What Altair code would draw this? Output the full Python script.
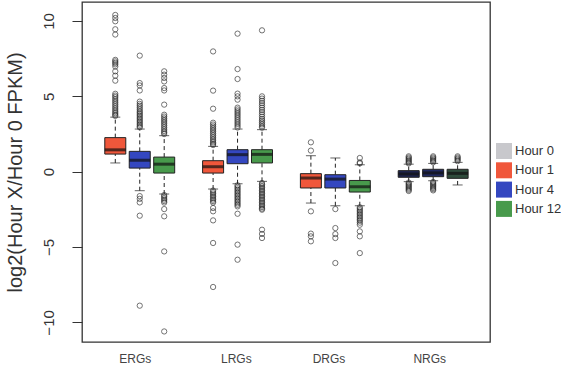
import altair as alt
import pandas as pd

# Legend entries (Hour 0 is the reference and has no box of its own)
hours = ["Hour 0", "Hour 1", "Hour 4", "Hour 12"]
hour_colors = ["#c8c8cc", "#f0573b", "#3447c0", "#489a4c"]

# Gene classes and where their names sit on the x axis (box slot units)
groups = ["ERGs", "LRGs", "DRGs", "NRGs"]
group_label_pos = [1.8, 5.93, 9.72, 13.84]

# One box per class and time point; slot positions along x
box_group = ["ERGs"] * 3 + ["LRGs"] * 3 + ["DRGs"] * 3 + ["NRGs"] * 3
box_hour = ["Hour 1", "Hour 4", "Hour 12"] * 4
box_pos = [1, 2, 3, 5, 6, 7, 9, 10, 11, 13, 14, 15]

# Five-number summaries (log2 fold change vs Hour 0)
whisker_low = [0.58, -1.26, -1.48, -1.15, -0.80, -0.64, -2.08, -2.26, -2.26, -0.66, -0.60, -0.88]
q1 = [1.17, 0.24, -0.09, -0.09, 0.53, 0.58, -1.08, -1.08, -1.35, -0.37, -0.33, -0.44]
median = [1.45, 0.76, 0.50, 0.33, 1.13, 1.15, -0.42, -0.49, -1.00, -0.15, -0.08, -0.11]
q3 = [2.26, 1.35, 0.97, 0.73, 1.46, 1.46, -0.13, -0.20, -0.58, 0.07, 0.16, 0.16]
whisker_high = [3.62, 2.83, 2.39, 1.68, 2.83, 2.79, 1.06, 0.91, 0.46, 0.50, 0.55, 0.62]
box_fill = ["#f0573b", "#3447c0", "#489a4c",
            "#f0573b", "#3447c0", "#489a4c",
            "#f0573b", "#3447c0", "#489a4c",
            "#1f2552", "#222a60", "#2f4c3c"]

# Outlying genes for each box
out_erg_h1 = [10.40, 10.20, 9.98, 9.45, 9.10, 7.42, 7.32, 7.22, 7.12, 6.98, 6.66, 6.37,
              6.04, 5.17, 5.05, 4.95, 4.82, 4.70, 4.58, 4.46, 4.34, 4.22, 4.10, 3.98,
              3.88, 3.78, 3.70]
out_erg_h4 = [7.70, 5.88, 5.72, 5.39, 4.65, 4.50, 4.38, 4.26, 4.14, 4.02, 3.92, 3.82,
              3.72, 3.62, 3.52, 3.42, 3.32, 3.22, 3.12, 3.02, 2.94,
              -1.62, -1.80, -2.04, -2.92, -8.89]
out_erg_h12 = [6.66, 6.44, 6.22, 5.99, 5.55, 5.39, 4.45, 3.78, 3.66, 3.54, 3.42, 3.30,
               3.18, 3.06, 2.94, 2.82, 2.70, 2.60, 2.50,
               -1.55, -1.65, -1.75, -1.85, -1.95, -2.05, -2.48, -2.96, -5.29, -10.60]
out_lrg_h1 = [7.98, 5.38, 4.18, 3.25, 3.13, 3.01, 2.89, 2.77, 2.65, 2.53, 2.41, 2.29,
              2.17, 2.05, 1.95, 1.85, 1.77,
              -1.25, -1.35, -1.45, -1.55, -1.65, -1.75, -1.85, -1.95, -2.05, -2.41,
              -2.63, -3.23, -4.73, -7.65]
out_lrg_h4 = [9.16, 6.81, 6.15, 5.18, 5.00, 4.78, 4.25, 4.13, 4.01, 3.89, 3.77, 3.65,
              3.53, 3.41, 3.29, 3.17, 3.05, 2.93,
              -0.90, -1.00, -1.10, -1.20, -1.30, -1.40, -1.50, -1.60, -1.70, -1.80,
              -1.90, -2.00, -2.10, -2.20, -2.30, -2.79, -4.84, -5.84]
out_lrg_h12 = [9.38, 5.00, 4.85, 4.70, 4.55, 4.40, 4.25, 4.10, 3.95, 3.80, 3.65, 3.50,
               3.38, 3.26, 3.14, 3.02, 2.92,
               -0.75, -0.85, -0.95, -1.05, -1.15, -1.25, -1.35, -1.45, -1.55, -1.65,
               -1.75, -1.85, -1.95, -2.05, -2.15, -2.25, -2.35, -2.45, -2.52,
               -3.85, -4.13, -4.40]
out_drg_h1 = [1.95, 1.40, -2.63, -4.11, -4.29, -4.62]
out_drg_h4 = [-2.48, -3.74, -4.14, -4.40, -6.06]
out_drg_h12 = [0.91, 0.62, 0.55,
               -2.36, -2.46, -2.56, -2.66, -2.76, -2.86, -2.96, -3.06, -3.16, -3.26,
               -3.38, -3.52, -3.96, -4.29, -5.40]
out_nrg_h1 = [0.55, 0.62, 0.70, 0.78, 0.86, 0.94, 1.02,
              -0.72, -0.80, -0.88, -0.96, -1.04, -1.12, -1.20, -1.28]
out_nrg_h4 = [0.62, 0.70, 0.78, 0.86, 0.94, 1.02,
              -0.68, -0.76, -0.84, -0.92, -1.00, -1.08, -1.16, -1.24]
out_nrg_h12 = [0.70, 0.78, 0.86, 0.94, 1.02]

outliers = [out_erg_h1, out_erg_h4, out_erg_h12,
            out_lrg_h1, out_lrg_h4, out_lrg_h12,
            out_drg_h1, out_drg_h4, out_drg_h12,
            out_nrg_h1, out_nrg_h4, out_nrg_h12]

boxes = pd.DataFrame({
    "group": box_group, "hour": box_hour, "pos": box_pos,
    "lo": whisker_low, "q1": q1, "med": median, "q3": q3, "hi": whisker_high,
    "fill": box_fill,
})
points = pd.DataFrame(
    [{"pos": p, "value": v} for p, vals in zip(box_pos, outliers) for v in vals]
)

x_scale = alt.Scale(domain=[-0.157, 16.12], nice=False, zero=False)
y_scale = alt.Scale(domain=[-11.3, 11.26], nice=False, zero=False)

label_expr = ("datum.value < 4 ? 'ERGs' : datum.value < 8 ? 'LRGs' : "
              "datum.value < 12 ? 'DRGs' : 'NRGs'")

x_enc = alt.X(
    "pos:Q", scale=x_scale, title=None,
    axis=alt.Axis(values=group_label_pos, labelExpr=label_expr, ticks=False,
                  domain=False, grid=False, labelFontSize=12, labelColor="#444",
                  labelPadding=11, labelFont="Liberation Sans"),
)
y_axis = alt.Axis(values=[-10, -5, 0, 5, 10], tickSize=10, tickColor="#333",
                  labelAngle=270, labelAlign="center", labelBaseline="bottom",
                  labelFontSize=15, labelColor="#333", labelPadding=16,
                  domain=False, grid=False, title="log2(Hour X/Hour 0 FPKM)",
                  titleFontSize=20, titleFontWeight="normal", titleColor="#333",
                  titlePadding=16, titleFont="Liberation Sans",
                  labelFont="Liberation Sans")

base = alt.Chart(boxes)

upper_whisker = base.mark_rule(color="#222", strokeDash=[4, 3], strokeWidth=1).encode(
    x=x_enc, y=alt.Y("q3:Q", scale=y_scale, axis=y_axis), y2="hi:Q")
lower_whisker = base.mark_rule(color="#222", strokeDash=[4, 3], strokeWidth=1).encode(
    x="pos:Q", y="lo:Q", y2="q1:Q")
upper_cap = base.mark_tick(orient="horizontal", size=10, thickness=1, color="#222").encode(
    x="pos:Q", y="hi:Q")
lower_cap = base.mark_tick(orient="horizontal", size=10, thickness=1, color="#222").encode(
    x="pos:Q", y="lo:Q")
box = base.mark_bar(size=21, stroke="#222", strokeWidth=1).encode(
    x="pos:Q", y="q1:Q", y2="q3:Q", fill=alt.Fill("fill:N", scale=None))
med_line = base.mark_tick(orient="horizontal", size=21, thickness=3, color="#111").encode(
    x="pos:Q", y="med:Q")

dots = alt.Chart(points).mark_point(shape="circle", filled=False, size=28,
                                    color="#222", strokeWidth=0.9).encode(
    x="pos:Q", y="value:Q")

legend_layer = base.mark_square(opacity=0).encode(
    x="pos:Q", y="med:Q",
    color=alt.Color("hour:N",
                    scale=alt.Scale(domain=hours, range=hour_colors),
                    legend=alt.Legend(orient="none", legendX=414, legendY=141,
                                      title=None, symbolType="square",
                                      symbolSize=256, symbolOpacity=1,
                                      symbolStrokeWidth=0, labelFontSize=13,
                                      labelColor="#333", labelOffset=3,
                                      rowPadding=3.3, padding=0,
                                      labelFont="Liberation Sans")),
)

chart = alt.layer(
    upper_whisker, lower_whisker, upper_cap, lower_cap, box, med_line, dots, legend_layer
).properties(
    width=408, height=340,
    autosize=alt.AutoSizeParams(type="none"),
    padding={"left": 82, "top": 2, "right": 71, "bottom": 25},
    background="white",
).configure_view(stroke="#333", strokeWidth=1.3)

chart.save("out.html", embed_options={"renderer": "svg", "actions": False})
